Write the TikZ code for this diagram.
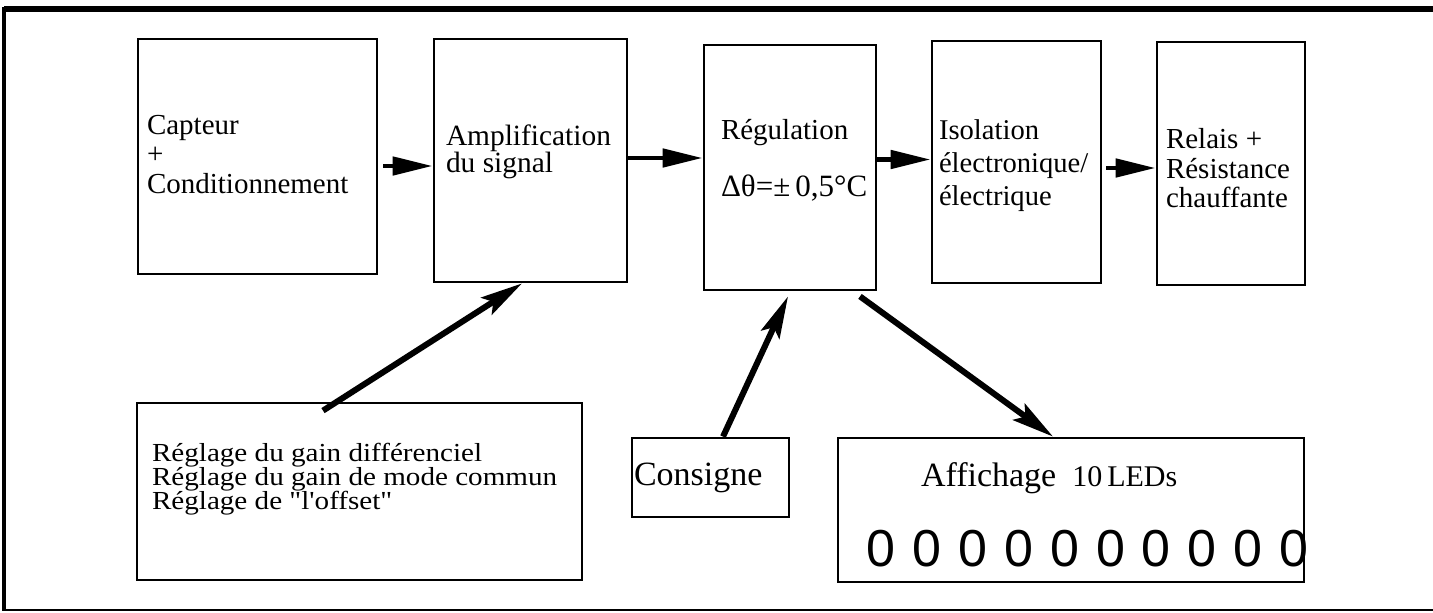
\documentclass[tikz,border=0pt]{standalone}
\usepackage{fontspec}
\setmainfont{Liberation Serif}
\newfontfamily\droit{Liberation Serif}[FakeStretch=1.12]
\newfontfamily\ledfont{Liberation Sans}
\usetikzlibrary{positioning, arrows.meta}

\tikzset{
	bloc/.style={rectangle, draw, line width=1.4pt, inner sep=0pt},
	texte/.style={inner sep=0pt, align=left, font=\fontsize{14.5}{14.75}\selectfont},
	fleche/.style={line width=2.4pt, -{Triangle[length=20pt, width=9pt]}},
	oblique/.style={line width=3pt, -{Stealth[length=21pt, width=10pt, inset=4pt]}},
	led/.style={inner sep=0pt, font=\ledfont\fontsize{26}{26}\selectfont}
}

\begin{document}
\setlength{\lineskiplimit}{-20pt}
\begin{tikzpicture}[x=0.5pt, y=-0.5pt]
	\useasboundingbox (0,0) rectangle (1433,612);
	% Cadre
	\draw[line width=2.6pt] (4,9) -- (1433,9);
	\draw[line width=2pt] (4,7) -- (4,611);
	\draw[line width=0.8pt] (4,610) -- (1433,610);
	
	% Chaine principale
	\node[bloc, minimum width=119.5pt, minimum height=117.5pt] (capteur) at (257.5,156.5) {};
	\node[texte, right=5pt of capteur.west, yshift=1pt] (capteur-txt) {Capteur\\+\\Conditionnement};
	
	\node[bloc, minimum width=96.5pt, minimum height=121.5pt] (ampli) at (530.5,160.5) {};
	\node[texte, font=\fontsize{14.7}{13.9}\selectfont, right=6.5pt of ampli.west, yshift=4.35pt] (ampli-txt) {Amplification\\du signal};
	
	\node[bloc, minimum width=86pt, minimum height=122.5pt] (regul) at (790,167.5) {};
	\node[texte, right=9pt of regul.west, yshift=3.5pt] (regul-txt) {Régulation\\[13.5pt]{\fontsize{15.5}{15.5}\selectfont Δθ=±\,0,5°C}};
	
	\node[bloc, minimum width=84.5pt, minimum height=121pt] (isol) at (1016.5,162) {};
	\node[texte, font=\fontsize{14.3}{16.5}\selectfont, right=4pt of isol.west, yshift=-1.6pt] (isol-txt) {Isolation\\électronique/\\électrique};
	
	\node[bloc, minimum width=74pt, minimum height=121.5pt] (relais) at (1231,163.5) {};
	\node[texte, right=5pt of relais.west, yshift=-2.4pt] (relais-txt) {Relais +\\Résistance\\chauffante};
	
	% Blocs du bas
	\node[bloc, minimum width=222.5pt, minimum height=88.5pt] (reglage) at (359.5,491.5) {};
	\node[texte, font=\droit\fontsize{13}{12}\selectfont, right=8pt of reglage.west, yshift=6pt] (reglage-txt) {Réglage du gain différenciel\\Réglage du gain de mode commun\\Réglage de "l'offset"};
	
	\node[bloc, minimum width=78.5pt, minimum height=39.5pt, text width=76.5pt, inner xsep=1pt, align=left, font=\fontsize{17}{17}\selectfont] (consigne) at (710.5,477.5) {Consigne};
	
	\node[bloc, minimum width=233pt, minimum height=72pt] (affichage) at (1071,510) {};
	\node[texte, font=\fontsize{17}{17}\selectfont, right=42pt of affichage.west, yshift=15.7pt] (affichage-txt) {Affichage\hspace{8pt}{\fontsize{15}{15}\selectfont 10\,LEDs}};
	
	% Les 10 LEDs
	\begin{scope}
		\clip (affichage.south west) rectangle (affichage.north east);
		\foreach \i in {0,...,9}
			\node[led] (led\i) at (881+45.9*\i,549) {0};
	\end{scope}
	
	% Liaisons
	\draw[fleche] ([xshift=2.5pt, yshift=-4.75pt]capteur.east) -- ([yshift=-2.75pt]ampli.west);
	\draw[fleche] ([yshift=1.25pt]ampli.east) -- ([yshift=4.75pt]regul.west);
	\draw[fleche] ([yshift=4pt]regul.east) -- ([yshift=1.25pt]isol.west);
	\draw[fleche] ([xshift=2pt, yshift=-3pt]isol.east) -- ([yshift=-2.25pt]relais.west);
	
	\draw[oblique] ([xshift=-18.25pt, yshift=-4.5pt]reglage.north) -- ([xshift=-4.25pt]ampli.south);
	\draw[oblique] ([xshift=6.25pt]consigne.north) -- ([xshift=-1pt, yshift=-2.5pt]regul.south);
	\draw[oblique] ([xshift=35pt, yshift=-2.5pt]regul.south) -- ([xshift=-9pt]affichage.north);
\end{tikzpicture}
\end{document}
